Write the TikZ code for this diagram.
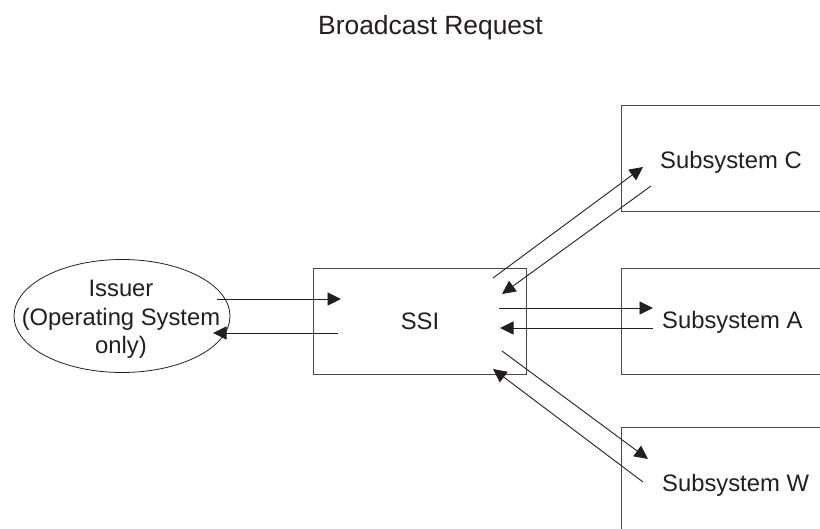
\documentclass[tikz,border=0pt]{standalone}
\usepackage{fontspec}
\setmainfont{Liberation Sans}
\usetikzlibrary{arrows.meta,shapes.geometric}
\definecolor{ink}{HTML}{231F20}
\definecolor{boxline}{HTML}{4A4A4A}
\tikzset{
  lbl/.style={text=ink,inner sep=0pt,anchor=base,font=\fontsize{23.8}{29}\selectfont},
  ttl/.style={text=ink,inner sep=0pt,anchor=base,font=\fontsize{26.4}{30}\selectfont},
  boxrect/.style={draw=boxline,line width=1pt},
  conn/.style={draw=ink,line width=0.9pt,-{Triangle[length=13.5pt,width=13pt]}}
}
\begin{document}
\begin{tikzpicture}[x=1pt,y=-1pt]
\useasboundingbox (0,0) rectangle (820,529);
\clip (0,0) rectangle (820,529);
\fill[white] (0,0) rectangle (820,529);
% title
\node[ttl] (title) at (430.5,35) {Broadcast Request};
% issuer ellipse
\node[ellipse,draw=ink,line width=0.8pt,minimum width=216pt,minimum height=113pt,inner sep=0pt] (issuer) at (122,316) {};
\node[lbl] (iss1) at (121,296.5) {Issuer};
\node[lbl] (iss2) at (121,326) {(Operating System};
\node[lbl] (iss3) at (121,354) {only)};
% SSI box
\draw[boxrect] (313,269) rectangle (526,375);
\node[lbl] (ssi) at (420,330) {SSI};
% subsystem boxes
\draw[boxrect] (621,106) rectangle (840,212);
\node[lbl,anchor=base west] (subc) at (660,169) {Subsystem C};
\draw[boxrect] (621,269) rectangle (840,375);
\node[lbl,anchor=base west] (suba) at (662,329) {Subsystem A};
\draw[boxrect] (621,428) rectangle (840,560);
\node[lbl,anchor=base west] (subw) at (662,491) {Subsystem W};
% connector end points
\coordinate (i1s) at (217,299);  \coordinate (i1e) at (341,299);
\coordinate (i2s) at (338,333);  \coordinate (i2e) at (213,333);
\coordinate (c1s) at (493,278);  \coordinate (c1e) at (643,167);
\coordinate (c2s) at (651,186);  \coordinate (c2e) at (502,294);
\coordinate (a1s) at (499,308);  \coordinate (a1e) at (653,308);
\coordinate (a2s) at (653,328);  \coordinate (a2e) at (500,328);
\coordinate (w1s) at (502,351);  \coordinate (w1e) at (648,459);
\coordinate (w2s) at (643,482);  \coordinate (w2e) at (493,369);
% connectors
\draw[conn] (i1s) -- (i1e);
\draw[conn] (i2s) -- (i2e);
\draw[conn] (c1s) -- (c1e);
\draw[conn] (c2s) -- (c2e);
\draw[conn] (a1s) -- (a1e);
\draw[conn] (a2s) -- (a2e);
\draw[conn] (w1s) -- (w1e);
\draw[conn] (w2s) -- (w2e);
\end{tikzpicture}
\end{document}
